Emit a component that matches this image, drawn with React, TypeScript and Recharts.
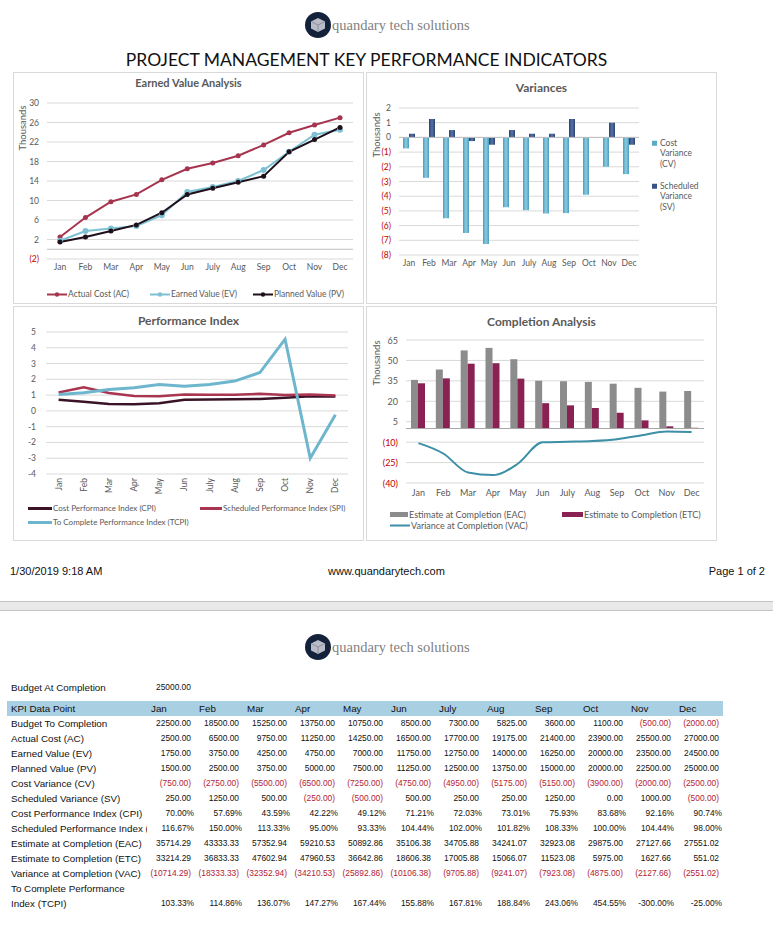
import React from "react";
import { LineChart, Line, BarChart, Bar, ComposedChart, XAxis, YAxis, CartesianGrid, ReferenceLine, Legend } from "recharts";

const MONTHS = ["Jan", "Feb", "Mar", "Apr", "May", "Jun", "July", "Aug", "Sep", "Oct", "Nov", "Dec"];

const BUDGET_AT_COMPLETION = 25000;
const BUDGET_TO_COMPLETION = [22500, 18500, 15250, 13750, 10750, 8500, 7300, 5825, 3600, 1100, -500, -2000];
const ACTUAL_COST = [2500, 6500, 9750, 11250, 14250, 16500, 17700, 19175, 21400, 23900, 25500, 27000];
const EARNED_VALUE = [1750, 3750, 4250, 4750, 7000, 11750, 12750, 14000, 16250, 20000, 23500, 24500];
const PLANNED_VALUE = [1500, 2500, 3750, 5000, 7500, 11250, 12500, 13750, 15000, 20000, 22500, 25000];
const COST_VARIANCE = [-750, -2750, -5500, -6500, -7250, -4750, -4950, -5175, -5150, -3900, -2000, -2500];
const SCHEDULE_VARIANCE = [250, 1250, 500, -250, -500, 500, 250, 250, 1250, 0, 1000, -500];
const CPI = [70.0, 57.69, 43.59, 42.22, 49.12, 71.21, 72.03, 73.01, 75.93, 83.68, 92.16, 90.74];
const SPI = [116.67, 150.0, 113.33, 95.0, 93.33, 104.44, 102.0, 101.82, 108.33, 100.0, 104.44, 98.0];
const EAC = [35714.29, 43333.33, 57352.94, 59210.53, 50892.86, 35106.38, 34705.88, 34241.07, 32923.08, 29875.0, 27127.66, 27551.02];
const ETC = [33214.29, 36833.33, 47602.94, 47960.53, 36642.86, 18606.38, 17005.88, 15066.07, 11523.08, 5975.0, 1627.66, 551.02];
const VAC = [-10714.29, -18333.33, -32352.94, -34210.53, -25892.86, -10106.38, -9705.88, -9241.07, -7923.08, -4875.0, -2127.66, -2551.02];
const TCPI = [103.33, 114.86, 136.07, 147.27, 167.44, 155.88, 167.81, 188.84, 243.06, 454.55, -300.0, -25.0];

const EV_TICKS = [-2000, 2000, 6000, 10000, 14000, 18000, 22000, 26000, 30000];
const VAR_TICKS = [-8000, -7000, -6000, -5000, -4000, -3000, -2000, -1000, 0, 1000, 2000];
const PI_TICKS = [-400, -300, -200, -100, 0, 100, 200, 300, 400, 500];
const CA_TICKS = [-40000, -25000, -10000, 5000, 20000, 35000, 50000, 65000];

const FONT = "Lato, 'Open Sans', sans-serif";
const TABLE_FONT = "'Liberation Sans', Arial, sans-serif";
const GRAY = "#595959";
const RED = "#C00000";
const GRID = "#D9D9D9";

const evData = MONTHS.map((m, i) => ({ month: m, ac: ACTUAL_COST[i], ev: EARNED_VALUE[i], pv: PLANNED_VALUE[i] }));
const varData = MONTHS.map((m, i) => ({ month: m, cv: COST_VARIANCE[i], sv: SCHEDULE_VARIANCE[i] }));
const piData = MONTHS.map((m, i) => ({ month: m, cpi: CPI[i], spi: SPI[i], tcpi: TCPI[i] }));
const caData = MONTHS.map((m, i) => ({ month: m, eac: EAC[i], etc: ETC[i], vac: VAC[i] }));

const makeYTick = (div: number, parens: boolean, size = 8.5) => (props: any) => {
  const { x, y, payload } = props;
  const v = payload.value / div;
  const neg = v < 0;
  const label = neg && parens ? `(${Math.abs(v)})` : `${v}`;
  return (
    <text x={x} y={y} textAnchor="end" dominantBaseline="central" fontSize={size} fontFamily={FONT} fill={neg && parens ? RED : GRAY}>
      {label}
    </text>
  );
};

const xTickStyle = { fontSize: 8.5, fontFamily: FONT, fill: GRAY };

const RotatedTick = (props: any) => {
  const { x, y, payload } = props;
  return (
    <text x={x} y={y} transform={`rotate(-90, ${x}, ${y})`} textAnchor="end" dominantBaseline="central" fontSize={8.5} fontFamily={FONT} fill={GRAY}>
      {payload.value}
    </text>
  );
};

type Slot = { key: string; x: number; y: number; w: number; icon: "line" | "lineDot" | "rect" | "square"; color: string; size: number; textWidth?: number; thick?: number };

const makeLegend = (slots: Slot[]) => (props: any) => {
  const items = props.payload || [];
  return (
    <div style={{ position: "relative", width: "100%", height: "100%" }}>
      {items.map((it: any) => {
        const s = slots.find((q) => q.key === it.dataKey);
        if (!s) return null;
        const lh = s.textWidth ? 10.5 : 11;
        return (
          <div key={s.key} style={{ position: "absolute", left: s.x, top: s.y - lh / 2, display: "flex", alignItems: "flex-start" }}>
            <svg width={s.w} height={lh} style={{ flex: "none" }}>
              {s.icon === "line" && <line x1={0} x2={s.w} y1={lh / 2} y2={lh / 2} stroke={s.color} strokeWidth={s.thick || 2} />}
              {s.icon === "lineDot" && (
                <g>
                  <line x1={0} x2={s.w} y1={lh / 2} y2={lh / 2} stroke={s.color} strokeWidth={2} />
                  <circle cx={s.w / 2} cy={lh / 2} r={2.2} fill={s.color} />
                </g>
              )}
              {s.icon === "rect" && <rect x={0} y={lh / 2 - 2.5} width={s.w} height={5} fill={s.color} />}
              {s.icon === "square" && <rect x={0} y={lh / 2 - 2.5} width={5} height={5} fill={s.color} />}
            </svg>
            <div
              style={{
                marginLeft: s.icon === "square" ? 3 : 1,
                fontFamily: FONT,
                fontSize: s.size,
                color: GRAY,
                lineHeight: `${lh}px`,
                whiteSpace: s.textWidth ? "normal" : "nowrap",
                width: s.textWidth,
              }}
            >
              {it.value}
            </div>
          </div>
        );
      })}
    </div>
  );
};

const EV_LEGEND: Slot[] = [
  { key: "ac", x: 34, y: 222, w: 20, icon: "lineDot", color: "#A6344F", size: 8.5 },
  { key: "ev", x: 137, y: 222, w: 20, icon: "lineDot", color: "#7DC1D3", size: 8.5 },
  { key: "pv", x: 240, y: 222, w: 20, icon: "lineDot", color: "#1E0F1A", size: 8.5 },
];
const VAR_LEGEND: Slot[] = [
  { key: "cv", x: 286, y: 71, w: 5, icon: "square", color: "#5AAAC6", size: 8.5, textWidth: 46 },
  { key: "sv", x: 286, y: 114, w: 5, icon: "square", color: "#3A5283", size: 8.5, textWidth: 46 },
];
const PI_LEGEND: Slot[] = [
  { key: "cpi", x: 15, y: 202, w: 24, icon: "line", color: "#3A1327", size: 8, thick: 3 },
  { key: "spi", x: 187, y: 202, w: 22, icon: "line", color: "#A93550", size: 8, thick: 3 },
  { key: "tcpi", x: 15, y: 216, w: 24, icon: "line", color: "#6DB6CD", size: 8, thick: 3 },
];
const CA_LEGEND: Slot[] = [
  { key: "eac", x: 24, y: 208, w: 18, icon: "rect", color: "#8C8C8C", size: 9 },
  { key: "etc", x: 196, y: 208, w: 21, icon: "rect", color: "#8A2153", size: 9 },
  { key: "vac", x: 24, y: 219, w: 20, icon: "line", color: "#3C8FA6", size: 9 },
];

function Panel({ left, top, width, height, title, titleTop, titleSize, children }: any) {
  return (
    <div style={{ position: "absolute", left, top, width, height, border: "1px solid #D9D9D9", boxSizing: "border-box", background: "#fff" }}>
      <div style={{ position: "absolute", left: 0, width: "100%", top: titleTop - 8, lineHeight: "16px", textAlign: "center", fontFamily: FONT, fontWeight: 700, fontSize: titleSize, color: GRAY }}>
        {title}
      </div>
      <div style={{ position: "absolute", left: -1, top: -1 }}>{children}</div>
    </div>
  );
}

function Thousands({ x, y }: { x: number; y: number }) {
  return (
    <div style={{ position: "absolute", left: x, top: y, transform: "translate(-50%, -50%) rotate(-90deg)", whiteSpace: "nowrap", fontFamily: FONT, fontSize: 9.5, color: GRAY }}>
      Thousands
    </div>
  );
}

function Logo({ cy }: { cy: number }) {
  return (
    <div style={{ position: "absolute", left: 305, top: cy - 13, height: 26, display: "flex", alignItems: "center" }}>
      <svg width={26} height={26}>
        <circle cx={13} cy={13} r={13} fill="#14213B" />
        <polygon points="13,6 20,9.5 20,16.5 13,20 6,16.5 6,9.5" fill="#B9BCC6" />
        <polyline points="6,9.5 13,13 20,9.5" stroke="#8C909C" fill="none" strokeWidth={1} />
        <line x1={13} y1={13} x2={13} y2={20} stroke="#8C909C" strokeWidth={1} />
      </svg>
      <span style={{ marginLeft: 1, fontFamily: "'Liberation Serif', serif", fontSize: 14.5, color: "#7F7F7F" }}>quandary tech solutions</span>
    </div>
  );
}

function EarnedValueChart() {
  return (
    <LineChart width={350} height={231} data={evData} margin={{ top: 31, right: 10, left: 0, bottom: 24 }}>
      <CartesianGrid vertical={false} stroke={GRID} />
      <XAxis dataKey="month" height={20} axisLine={false} tickLine={false} tickSize={3} tickMargin={2} padding={{ left: 13, right: 13 }} tick={xTickStyle} interval={0} />
      <YAxis width={34} domain={[-2000, 30000]} ticks={EV_TICKS} interval={0} axisLine={false} tickLine={false} tick={makeYTick(1000, true)} />
      <ReferenceLine y={0} stroke="#BFBFBF" />
      <Line dataKey="ac" name="Actual Cost (AC)" stroke="#A6344F" strokeWidth={2} dot={{ r: 2.5, fill: "#A6344F", strokeWidth: 0 }} isAnimationActive={false} />
      <Line dataKey="ev" name="Earned Value (EV)" stroke="#7DC1D3" strokeWidth={2} dot={{ r: 3, fill: "#7DC1D3", strokeWidth: 0 }} isAnimationActive={false} />
      <Line dataKey="pv" name="Planned Value (PV)" stroke="#1E0F1A" strokeWidth={2} dot={{ r: 2.5, fill: "#1E0F1A", strokeWidth: 0 }} isAnimationActive={false} />
      <Legend layout="horizontal" verticalAlign="middle" align="center" wrapperStyle={{ left: 0, top: 0, width: 350, height: 231 }} content={makeLegend(EV_LEGEND)} />
    </LineChart>
  );
}

function VariancesChart() {
  return (
    <BarChart width={350} height={231} data={varData} margin={{ top: 36, right: 77, left: 0, bottom: 28 }} barGap={0} barSize={6}>
      <defs>
        <linearGradient id="cvGrad" x1="0" y1="0" x2="1" y2="0">
          <stop offset="0%" stopColor="#4A9DBD" />
          <stop offset="50%" stopColor="#8DCBE0" />
          <stop offset="100%" stopColor="#4A9DBD" />
        </linearGradient>
        <linearGradient id="svGrad" x1="0" y1="0" x2="1" y2="0">
          <stop offset="0%" stopColor="#2C416F" />
          <stop offset="50%" stopColor="#5672A8" />
          <stop offset="100%" stopColor="#2C416F" />
        </linearGradient>
      </defs>
      <CartesianGrid vertical={false} stroke={GRID} />
      <XAxis dataKey="month" height={20} axisLine={false} tickLine={false} tickSize={3} tickMargin={2} tick={xTickStyle} interval={0} />
      <YAxis width={33} domain={[-8000, 2000]} ticks={VAR_TICKS} interval={0} axisLine={false} tickLine={false} tick={makeYTick(1000, true)} />
      <ReferenceLine y={0} stroke="#BFBFBF" />
      <Bar dataKey="cv" name="Cost Variance (CV)" fill="url(#cvGrad)" isAnimationActive={false} />
      <Bar dataKey="sv" name="Scheduled Variance (SV)" fill="url(#svGrad)" isAnimationActive={false} />
      <Legend layout="horizontal" verticalAlign="middle" align="center" wrapperStyle={{ left: 0, top: 0, width: 350, height: 231 }} content={makeLegend(VAR_LEGEND)} />
    </BarChart>
  );
}

function PerformanceChart() {
  return (
    <LineChart width={350} height={234} data={piData} margin={{ top: 26, right: 15, left: 0, bottom: 36 }}>
      <CartesianGrid vertical={false} stroke={GRID} />
      <XAxis dataKey="month" height={30} axisLine={false} tickLine={false} tickSize={0} tickMargin={4} padding={{ left: 12.6, right: 12.6 }} tick={<RotatedTick />} interval={0} />
      <YAxis width={33} domain={[-400, 500]} ticks={PI_TICKS} interval={0} axisLine={false} tickLine={false} tickMargin={4} tick={makeYTick(100, false)} />
      <Line dataKey="cpi" name="Cost Performance Index (CPI)" stroke="#3A1327" strokeWidth={2.5} dot={false} isAnimationActive={false} />
      <Line dataKey="spi" name="Scheduled Performance Index (SPI)" stroke="#A93550" strokeWidth={2.5} dot={false} isAnimationActive={false} />
      <Line dataKey="tcpi" name="To Complete Performance Index (TCPI)" stroke="#6DB6CD" strokeWidth={3} dot={false} isAnimationActive={false} />
      <Legend layout="horizontal" verticalAlign="middle" align="center" wrapperStyle={{ left: 0, top: 0, width: 350, height: 234 }} content={makeLegend(PI_LEGEND)} />
    </LineChart>
  );
}

function CompletionChart() {
  return (
    <ComposedChart width={350} height={234} data={caData} margin={{ top: 34, right: 12, left: 0, bottom: 37 }} barGap={0} barSize={7}>
      <CartesianGrid vertical={false} stroke={GRID} />
      <XAxis dataKey="month" height={20} axisLine={false} tickLine={false} tickSize={4} tickMargin={3} tick={{ ...xTickStyle, fontSize: 9 }} interval={0} />
      <YAxis width={40} domain={[-40000, 65000]} ticks={CA_TICKS} interval={0} axisLine={false} tickLine={false} tick={makeYTick(1000, true, 9)} />
      <ReferenceLine y={0} stroke="#A6A6A6" />
      <Bar dataKey="eac" name="Estimate at Completion (EAC)" fill="#8C8C8C" isAnimationActive={false} />
      <Bar dataKey="etc" name="Estimate to Completion (ETC)" fill="#8A2153" isAnimationActive={false} />
      <Line dataKey="vac" name="Variance at Completion (VAC)" type="monotone" stroke="#3C8FA6" strokeWidth={2} dot={false} isAnimationActive={false} />
      <Legend layout="horizontal" verticalAlign="middle" align="center" wrapperStyle={{ left: 0, top: 0, width: 350, height: 234 }} content={makeLegend(CA_LEGEND)} />
    </ComposedChart>
  );
}

const TABLE_ROWS: { label: string; values: number[] | null; kind: "money" | "pct" }[] = [
  { label: "Budget To Completion", values: BUDGET_TO_COMPLETION, kind: "money" },
  { label: "Actual Cost (AC)", values: ACTUAL_COST, kind: "money" },
  { label: "Earned Value (EV)", values: EARNED_VALUE, kind: "money" },
  { label: "Planned Value (PV)", values: PLANNED_VALUE, kind: "money" },
  { label: "Cost Variance (CV)", values: COST_VARIANCE, kind: "money" },
  { label: "Scheduled Variance (SV)", values: SCHEDULE_VARIANCE, kind: "money" },
  { label: "Cost Performance Index (CPI)", values: CPI, kind: "pct" },
  { label: "Scheduled Performance Index (SPI)", values: SPI, kind: "pct" },
  { label: "Estimate at Completion (EAC)", values: EAC, kind: "money" },
  { label: "Estimate to Completion (ETC)", values: ETC, kind: "money" },
  { label: "Variance at Completion (VAC)", values: VAC, kind: "money" },
  { label: "To Complete Performance", values: null, kind: "pct" },
  { label: "Index (TCPI)", values: TCPI, kind: "pct" },
];

const cellText = (v: number, kind: "money" | "pct") => {
  if (kind === "pct") return { text: `${v.toFixed(2)}%`, red: false };
  if (v < 0) return { text: `(${Math.abs(v).toFixed(2)})`, red: true };
  return { text: v.toFixed(2), red: false };
};

function KpiTable() {
  const rowStyle: React.CSSProperties = { display: "flex", height: 15, lineHeight: "15px", fontFamily: TABLE_FONT, fontSize: 9.8, color: "#111" };
  const labelStyle: React.CSSProperties = { width: 140, paddingLeft: 4, boxSizing: "border-box", overflow: "hidden", whiteSpace: "nowrap", flex: "none" };
  return (
    <div style={{ position: "absolute", left: 7, top: 701, width: 716 }}>
      <div style={{ ...rowStyle, background: "#A9CFE3", width: 716 }}>
        <div style={labelStyle}>KPI Data Point</div>
        {MONTHS.map((m) => (
          <div key={m} style={{ width: 48, paddingLeft: 4, boxSizing: "border-box", flex: "none" }}>{m}</div>
        ))}
      </div>
      {TABLE_ROWS.map((r) => (
        <div key={r.label} style={rowStyle}>
          <div style={labelStyle}>{r.label}</div>
          {MONTHS.map((m, i) => {
            if (!r.values) return <div key={m} style={{ width: 48, flex: "none" }} />;
            const c = cellText(r.values[i], r.kind);
            return (
              <div key={m} style={{ width: 48, paddingRight: r.kind === "pct" ? 1 : 4, boxSizing: "border-box", textAlign: "right", flex: "none", whiteSpace: "nowrap", fontSize: 8.4, color: c.red ? "#B22234" : "#111" }}>
                {c.text}
              </div>
            );
          })}
        </div>
      ))}
    </div>
  );
}

export default function App() {
  return (
    <div style={{ position: "absolute", left: 0, top: 0, width: 773, height: 932, background: "#fff", overflow: "hidden" }}>
      <Logo cy={25} />
      <div style={{ position: "absolute", left: 0, width: 733, top: 50, lineHeight: "20px", textAlign: "center", fontFamily: FONT, fontSize: 17.5, color: "#111" }}>
        PROJECT MANAGEMENT KEY PERFORMANCE INDICATORS
      </div>

      <Panel left={13} top={72} width={351} height={232} title="Earned Value Analysis" titleTop={10} titleSize={11}>
        <EarnedValueChart />
      </Panel>
      <Panel left={366} top={72} width={351} height={232} title="Variances" titleTop={15} titleSize={12}>
        <VariancesChart />
      </Panel>
      <Panel left={13} top={306} width={351} height={235} title="Performance Index" titleTop={14} titleSize={12}>
        <PerformanceChart />
      </Panel>
      <Panel left={366} top={306} width={351} height={235} title="Completion Analysis" titleTop={15} titleSize={12}>
        <CompletionChart />
      </Panel>
      <Thousands x={22} y={128} />
      <Thousands x={376} y={135} />
      <Thousands x={376} y={363} />

      <div style={{ position: "absolute", left: 10, top: 564, fontFamily: TABLE_FONT, fontSize: 11, lineHeight: "14px", color: "#111" }}>1/30/2019 9:18 AM</div>
      <div style={{ position: "absolute", left: 0, width: 773, top: 564, textAlign: "center", fontFamily: TABLE_FONT, fontSize: 11, lineHeight: "14px", color: "#111" }}>www.quandarytech.com</div>
      <div style={{ position: "absolute", right: 8, top: 564, fontFamily: TABLE_FONT, fontSize: 11, lineHeight: "14px", color: "#111" }}>Page 1 of 2</div>

      <div style={{ position: "absolute", left: 0, top: 601, width: 773, height: 10, boxSizing: "border-box", background: "#E9E9E9", borderTop: "1px solid #C4C4C4", borderBottom: "1px solid #C4C4C4" }} />

      <Logo cy={647} />

      <div style={{ position: "absolute", left: 11, top: 680, lineHeight: "15px", fontFamily: TABLE_FONT, fontSize: 9.8, color: "#111" }}>Budget At Completion</div>
      <div style={{ position: "absolute", left: 156, top: 680, lineHeight: "15px", fontFamily: TABLE_FONT, fontSize: 8.4, color: "#111" }}>{BUDGET_AT_COMPLETION.toFixed(2)}</div>
      <KpiTable />
    </div>
  );
}
